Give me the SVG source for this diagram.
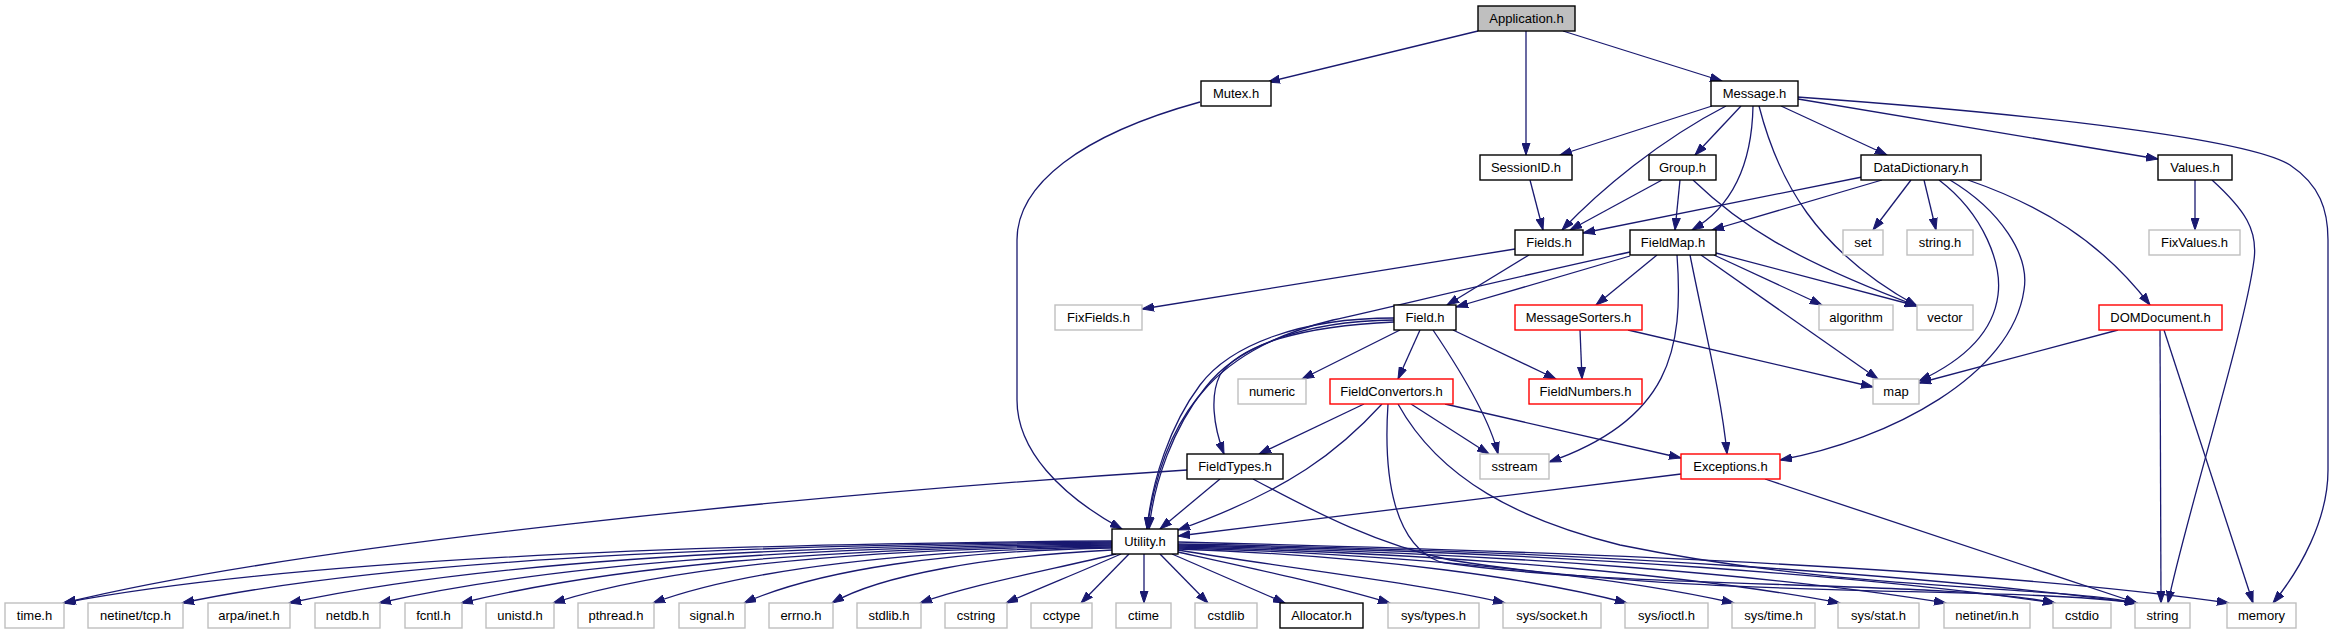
<svg xmlns="http://www.w3.org/2000/svg" width="2333" height="635" viewBox="0 0 2333 635">
<style>
text{font-family:"Liberation Sans",Arial,sans-serif;font-size:13px;text-anchor:middle;fill:#000}
.k rect{fill:#fff;stroke:#000;stroke-width:1.4}
.g rect{fill:#fff;stroke:#bfbfbf;stroke-width:1.4}
.r rect{fill:#fff;stroke:#ff0000;stroke-width:1.4}
.root rect{fill:#bfbfbf;stroke:#000;stroke-width:1.4}
#edges path{fill:none;stroke:#191970;stroke-width:1.3;marker-end:url(#a)}
</style>
<defs>
<marker id="a" markerWidth="13" markerHeight="9" refX="12" refY="4.5" orient="auto" markerUnits="userSpaceOnUse">
<path d="M0,0.5 L12,4.5 L0,8.5 z" fill="#191970" stroke="#191970" stroke-width="1"/>
</marker>
</defs>
<rect width="2333" height="635" fill="#fff"/>
<g id="edges">
<path d="M1478,31 L1268,82"/>
<path d="M1526,31 L1526,155"/>
<path d="M1563,31 L1722,81"/>
<path d="M1200,102 C1080,135 1017,185 1017,240 L1017,400 C1017,450 1060,495 1122,529"/>
<path d="M1712,106 L1560,155"/>
<path d="M1726,106 C1660,140 1600,190 1562,230"/>
<path d="M1741,106 L1695,155"/>
<path d="M1753,106 C1752,160 1735,205 1692,230"/>
<path d="M1759,106 C1778,180 1815,250 1917,306"/>
<path d="M1781,106 L1887,155"/>
<path d="M1798,99 L2158,159"/>
<path d="M1797,97 C2050,115 2250,140 2290,165 C2320,185 2328,210 2328,240 L2328,470 C2328,520 2300,570 2273,603"/>
<path d="M1530,180 L1543,230"/>
<path d="M1662,180 L1570,230"/>
<path d="M1680,180 L1675,230"/>
<path d="M1693,180 C1740,225 1790,258 1917,306"/>
<path d="M1862,177 L1583,233"/>
<path d="M1882,180 L1712,230"/>
<path d="M1911,180 L1873,230"/>
<path d="M1924,180 L1936,230"/>
<path d="M1939,180 C1985,215 2002,265 1998,295 C1993,335 1960,362 1919,381"/>
<path d="M1950,180 C2000,210 2030,255 2024,290 C2012,375 1890,440 1780,460"/>
<path d="M1968,180 C2040,205 2100,240 2150,305"/>
<path d="M2195,180 L2195,230"/>
<path d="M2212,180 C2245,210 2258,230 2254,260 C2245,330 2185,520 2168,603"/>
<path d="M1515,249 L1142,309"/>
<path d="M1529,255 L1447,305"/>
<path d="M1630,256 L1456,307"/>
<path d="M1630,252 C1480,285 1400,305 1333,320 C1230,345 1165,400 1147,529"/>
<path d="M1657,255 L1596,305"/>
<path d="M1677,255 C1684,350 1670,420 1549,462"/>
<path d="M1690,255 C1705,330 1722,400 1727,454"/>
<path d="M1701,255 L1878,379"/>
<path d="M1714,255 L1822,305"/>
<path d="M1716,253 L1917,306"/>
<path d="M1394,318 C1300,318 1230,345 1200,385 C1170,425 1152,480 1147,529"/>
<path d="M1394,320 C1300,321 1235,348 1205,388 C1173,428 1154,482 1149,529"/>
<path d="M1394,322 C1300,326 1240,345 1220,375 C1210,395 1213,425 1224,454"/>
<path d="M1400,330 L1302,379"/>
<path d="M1420,330 L1398,379"/>
<path d="M1433,330 C1460,370 1490,420 1498,454"/>
<path d="M1453,330 L1556,379"/>
<path d="M1580,330 L1582,379"/>
<path d="M1628,330 L1873,387"/>
<path d="M2118,330 L1919,383"/>
<path d="M2160,330 L2161,603"/>
<path d="M2164,330 L2253,603"/>
<path d="M1364,404 L1259,454"/>
<path d="M1382,404 C1340,450 1290,490 1178,530"/>
<path d="M1388,404 C1383,480 1395,545 1440,562 C1620,590 1950,580 2055,603"/>
<path d="M1398,404 C1440,480 1520,520 1620,545 C1850,592 2050,585 2137,603"/>
<path d="M1411,404 L1489,454"/>
<path d="M1445,404 L1681,458"/>
<path d="M1187,470 C800,495 300,545 64,603"/>
<path d="M1220,479 L1160,529"/>
<path d="M1253,479 C1320,515 1380,545 1450,560 C1700,600 2000,585 2137,603"/>
<path d="M1681,474 L1178,536"/>
<path d="M1765,479 L2137,603"/>
<path d="M1112,541 C640,544 274,563 63,603"/>
<path d="M1112,542 C695,545 370,563 182,603"/>
<path d="M1112,543 C745,546 470,564 289,603"/>
<path d="M1112,544 C786,547 547,565 379,603"/>
<path d="M1112,545 C822,548 612,566 461,603"/>
<path d="M1112,546 C863,549 665,567 553,603"/>
<path d="M1112,547 C908,550 745,569 653,603"/>
<path d="M1112,548 C947,551 818,570 744,603"/>
<path d="M1112,550 C990,556 880,575 832,603"/>
<path d="M1116,554 C1050,570 970,585 920,603"/>
<path d="M1121,554 C1080,572 1040,588 1006,603"/>
<path d="M1129,554 L1081,603"/>
<path d="M1144,554 L1144,603"/>
<path d="M1160,554 L1208,603"/>
<path d="M1172,554 L1285,603"/>
<path d="M1178,552 C1260,570 1330,585 1390,603"/>
<path d="M1178,550 C1300,570 1430,585 1505,603"/>
<path d="M1178,549 C1380,556 1540,580 1627,603"/>
<path d="M1178,548 C1430,555 1624,578 1734,603"/>
<path d="M1178,547 C1478,554 1708,578 1840,603"/>
<path d="M1178,546 C1526,553 1793,578 1946,603"/>
<path d="M1178,545 C1575,552 1880,578 2055,603"/>
<path d="M1178,544 C1612,551 1945,578 2137,603"/>
<path d="M1178,542 C1600,552 2000,570 2229,603"/>
</g>
<g id="n_application" class="root"><rect x="1478" y="6" width="97" height="25"/><text x="1526.5" y="23">Application.h</text></g>
<g id="n_mutex" class="k"><rect x="1201" y="81" width="70" height="25"/><text x="1236" y="98">Mutex.h</text></g>
<g id="n_message" class="k"><rect x="1711" y="81" width="87" height="25"/><text x="1754.5" y="98">Message.h</text></g>
<g id="n_sessionid" class="k"><rect x="1480" y="155" width="92" height="25"/><text x="1526" y="172">SessionID.h</text></g>
<g id="n_group" class="k"><rect x="1649" y="155" width="67" height="25"/><text x="1682.5" y="172">Group.h</text></g>
<g id="n_datadictionary" class="k"><rect x="1861" y="155" width="120" height="25"/><text x="1921" y="172">DataDictionary.h</text></g>
<g id="n_values" class="k"><rect x="2158" y="155" width="74" height="25"/><text x="2195" y="172">Values.h</text></g>
<g id="n_fields" class="k"><rect x="1515" y="230" width="68" height="25"/><text x="1549" y="247">Fields.h</text></g>
<g id="n_fieldmap" class="k"><rect x="1630" y="230" width="86" height="25"/><text x="1673" y="247">FieldMap.h</text></g>
<g id="n_set" class="g"><rect x="1843" y="230" width="40" height="25"/><text x="1863" y="247">set</text></g>
<g id="n_stringh" class="g"><rect x="1907" y="230" width="66" height="25"/><text x="1940" y="247">string.h</text></g>
<g id="n_fixvalues" class="g"><rect x="2149" y="230" width="91" height="25"/><text x="2194.5" y="247">FixValues.h</text></g>
<g id="n_fixfields" class="g"><rect x="1055" y="305" width="87" height="25"/><text x="1098.5" y="322">FixFields.h</text></g>
<g id="n_field" class="k"><rect x="1394" y="305" width="62" height="25"/><text x="1425" y="322">Field.h</text></g>
<g id="n_messagesorters" class="r"><rect x="1515" y="305" width="127" height="25"/><text x="1578.5" y="322">MessageSorters.h</text></g>
<g id="n_algorithm" class="g"><rect x="1819" y="305" width="74" height="25"/><text x="1856" y="322">algorithm</text></g>
<g id="n_vector" class="g"><rect x="1917" y="305" width="56" height="25"/><text x="1945" y="322">vector</text></g>
<g id="n_domdocument" class="r"><rect x="2099" y="305" width="123" height="25"/><text x="2160.5" y="322">DOMDocument.h</text></g>
<g id="n_numeric" class="g"><rect x="1238" y="379" width="68" height="25"/><text x="1272" y="396">numeric</text></g>
<g id="n_fieldconvertors" class="r"><rect x="1330" y="379" width="123" height="25"/><text x="1391.5" y="396">FieldConvertors.h</text></g>
<g id="n_fieldnumbers" class="r"><rect x="1529" y="379" width="113" height="25"/><text x="1585.5" y="396">FieldNumbers.h</text></g>
<g id="n_map" class="g"><rect x="1873" y="379" width="46" height="25"/><text x="1896" y="396">map</text></g>
<g id="n_fieldtypes" class="k"><rect x="1187" y="454" width="96" height="25"/><text x="1235" y="471">FieldTypes.h</text></g>
<g id="n_sstream" class="g"><rect x="1480" y="454" width="69" height="25"/><text x="1514.5" y="471">sstream</text></g>
<g id="n_exceptions" class="r"><rect x="1681" y="454" width="99" height="25"/><text x="1730.5" y="471">Exceptions.h</text></g>
<g id="n_utility" class="k"><rect x="1112" y="529" width="66" height="25"/><text x="1145" y="546">Utility.h</text></g>
<g id="n_timeh" class="g"><rect x="5" y="603" width="59" height="25"/><text x="34.5" y="620">time.h</text></g>
<g id="n_tcp" class="g"><rect x="88" y="603" width="95" height="25"/><text x="135.5" y="620">netinet/tcp.h</text></g>
<g id="n_inet" class="g"><rect x="208" y="603" width="82" height="25"/><text x="249" y="620">arpa/inet.h</text></g>
<g id="n_netdb" class="g"><rect x="315" y="603" width="65" height="25"/><text x="347.5" y="620">netdb.h</text></g>
<g id="n_fcntl" class="g"><rect x="405" y="603" width="57" height="25"/><text x="433.5" y="620">fcntl.h</text></g>
<g id="n_unistd" class="g"><rect x="486" y="603" width="68" height="25"/><text x="520" y="620">unistd.h</text></g>
<g id="n_pthread" class="g"><rect x="578" y="603" width="76" height="25"/><text x="616" y="620">pthread.h</text></g>
<g id="n_signal" class="g"><rect x="679" y="603" width="66" height="25"/><text x="712" y="620">signal.h</text></g>
<g id="n_errno" class="g"><rect x="769" y="603" width="64" height="25"/><text x="801" y="620">errno.h</text></g>
<g id="n_stdlib" class="g"><rect x="857" y="603" width="64" height="25"/><text x="889" y="620">stdlib.h</text></g>
<g id="n_cstring" class="g"><rect x="945" y="603" width="62" height="25"/><text x="976" y="620">cstring</text></g>
<g id="n_cctype" class="g"><rect x="1031" y="603" width="61" height="25"/><text x="1061.5" y="620">cctype</text></g>
<g id="n_ctime" class="g"><rect x="1116" y="603" width="55" height="25"/><text x="1143.5" y="620">ctime</text></g>
<g id="n_cstdlib" class="g"><rect x="1195" y="603" width="62" height="25"/><text x="1226" y="620">cstdlib</text></g>
<g id="n_allocator" class="k"><rect x="1280" y="603" width="83" height="25"/><text x="1321.5" y="620">Allocator.h</text></g>
<g id="n_systypes" class="g"><rect x="1388" y="603" width="91" height="25"/><text x="1433.5" y="620">sys/types.h</text></g>
<g id="n_syssocket" class="g"><rect x="1503" y="603" width="98" height="25"/><text x="1552" y="620">sys/socket.h</text></g>
<g id="n_sysioctl" class="g"><rect x="1625" y="603" width="83" height="25"/><text x="1666.5" y="620">sys/ioctl.h</text></g>
<g id="n_systime" class="g"><rect x="1732" y="603" width="83" height="25"/><text x="1773.5" y="620">sys/time.h</text></g>
<g id="n_sysstat" class="g"><rect x="1838" y="603" width="81" height="25"/><text x="1878.5" y="620">sys/stat.h</text></g>
<g id="n_netinetin" class="g"><rect x="1944" y="603" width="86" height="25"/><text x="1987" y="620">netinet/in.h</text></g>
<g id="n_cstdio" class="g"><rect x="2053" y="603" width="58" height="25"/><text x="2082" y="620">cstdio</text></g>
<g id="n_string" class="g"><rect x="2135" y="603" width="55" height="25"/><text x="2162.5" y="620">string</text></g>
<g id="n_memory" class="g"><rect x="2227" y="603" width="69" height="25"/><text x="2261.5" y="620">memory</text></g>
</svg>
